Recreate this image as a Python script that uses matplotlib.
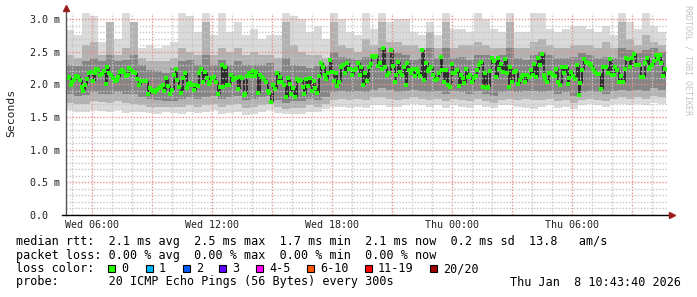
import numpy as np
import matplotlib
matplotlib.use("Agg")
import matplotlib.pyplot as plt

# time window in hours since Wed 00:00
t_start = 4.72
t_end = 34.72

# median rtt (ms), one value per step
median = [
    2.09, 2.12, 1.99, 2.03, 2.07, 2.13, 2.12, 2.07, 1.96, 1.90, 1.99, 2.08, 2.17, 2.19, 2.05,
    2.17, 2.23, 2.22, 2.14, 2.16, 2.20, 2.01, 2.27, 2.17, 2.14, 2.10, 2.05, 2.06, 2.12, 2.19,
    2.22, 2.19, 2.13, 2.14, 2.25, 2.22, 2.19, 2.17, 2.08, 1.99, 2.05, 2.05, 2.05, 2.05, 1.85,
    1.94, 1.91, 1.90, 1.88, 1.92, 1.95, 1.96, 1.99,
    1.90, 2.10, 1.98, 1.85, 1.91, 2.14, 2.24, 2.07, 1.96, 1.86, 2.09, 2.17, 1.95, 2.00, 2.02,
    1.99, 1.91, 1.99, 1.98, 2.17, 2.24, 2.04, 2.19, 2.09, 2.00, 2.04, 2.09, 2.11, 2.04, 1.85,
    1.96, 2.29, 1.96, 2.27, 1.99, 1.99, 2.14, 2.06, 2.10, 2.09, 1.93, 2.12, 2.09, 1.84, 1.85,
    2.13, 2.17, 2.13, 2.21, 2.13, 2.19, 1.86, 2.15, 2.12, 2.08,
    2.04, 1.90, 1.86, 1.73, 1.99, 1.93, 2.18, 2.03, 2.12, 2.03, 1.99, 1.81, 2.09, 2.00, 1.85,
    1.94, 1.81, 2.08, 2.05, 2.07, 1.96, 1.85, 2.08, 1.98, 2.09, 1.90, 2.05, 1.94, 1.86, 2.13,
    2.32, 2.27, 2.14, 2.08, 2.17, 2.37, 2.19, 2.05, 2.17, 1.98, 2.04, 2.27, 2.30, 2.18, 2.33,
    2.24, 2.23, 2.15, 2.22, 2.24, 2.32, 2.14, 2.26, 1.99, 2.17, 2.05,
    2.27, 2.31, 2.43, 2.42, 2.43, 2.28, 2.32, 2.24, 2.55, 2.26, 2.14, 2.17, 2.53, 2.28, 2.03,
    2.15, 2.34, 2.19, 2.14, 2.27, 1.99, 2.32, 2.22, 2.18, 2.24, 2.13, 2.24, 2.19, 2.13, 2.53,
    2.07, 2.32, 2.20, 2.24, 2.27, 2.14, 2.07, 2.08, 2.17, 2.42, 2.22, 2.04, 2.22, 1.99, 1.96,
    2.31, 2.17, 2.18, 2.22, 1.98, 2.14, 2.10, 2.02, 2.24, 2.12, 2.14, 2.04,
    2.10, 2.13, 2.22, 2.29, 2.34, 1.96, 2.17, 1.95, 1.96, 2.20, 2.40, 2.36, 2.12, 2.40, 2.23,
    2.31, 2.19, 2.39, 2.17, 1.96, 2.27, 2.03, 2.19, 2.20, 2.00, 2.07, 2.12, 2.14, 2.03, 2.14,
    2.12, 2.22, 2.15, 2.31, 2.12, 2.40, 2.29, 2.46, 2.15, 2.08, 2.03, 2.17, 2.18, 2.14, 2.13,
    2.24, 2.03, 1.99, 2.27, 2.17, 2.26, 2.01, 2.10, 2.19, 2.13, 2.08, 2.30, 1.84, 2.02, 2.22,
    2.39, 2.34, 2.32, 2.31, 2.29, 2.24, 2.19, 2.16, 2.16, 1.93, 2.27, 2.27, 2.27, 2.18, 2.39,
    2.15, 2.14, 2.26, 2.22, 2.04, 2.13, 2.04, 2.24, 2.41, 2.39, 2.27, 2.41, 2.46, 2.30, 2.30,
    2.30, 2.12, 2.11, 2.32, 2.40, 2.24, 2.27, 2.29, 2.35, 2.45, 2.39, 2.45, 2.33, 2.13, 2.24,
]

# smoke bands (ms), coarser bins
hi0 = [2.83, 2.76, 3.10, 3.05, 2.65, 2.80, 2.70, 3.10, 2.75, 2.55, 2.60, 2.55, 2.58,
       2.65, 3.10, 3.05, 2.80, 3.10, 2.75, 3.10, 2.80, 2.95, 2.75, 2.85, 2.70, 2.75,
       2.75, 3.10, 3.05, 3.00, 2.80, 2.90, 2.70, 3.10, 3.00, 2.80, 2.75, 3.10, 2.85,
       3.10, 2.95, 3.00, 3.00, 2.80, 2.75, 2.95, 2.75, 3.10, 2.85, 2.85, 2.80, 3.10,
       3.00, 2.85, 2.80, 3.10, 2.80, 2.80, 3.10, 3.10, 2.85, 2.80, 2.85, 2.90, 2.90,
       2.85, 2.80, 2.90, 2.75, 3.10, 2.95, 2.85, 3.10, 2.90, 2.80]
hi1 = [2.45, 2.40, 2.60, 2.65, 2.45, 2.95, 2.45, 2.55, 2.95, 2.40, 2.35, 2.35, 2.35,
       2.40, 2.55, 2.50, 2.45, 2.95, 2.45, 2.55, 2.50, 2.55, 2.45, 2.50, 2.45, 2.45,
       2.40, 2.95, 2.60, 2.50, 2.45, 2.45, 2.40, 2.95, 2.60, 2.55, 2.50, 2.70, 2.60,
       2.95, 2.65, 2.65, 2.60, 2.60, 2.55, 2.80, 2.55, 2.95, 2.55, 2.60, 2.60, 2.65,
       2.60, 2.55, 2.55, 2.95, 2.55, 2.55, 2.65, 2.70, 2.60, 2.55, 2.55, 2.60, 2.60,
       2.60, 2.55, 2.65, 2.55, 2.95, 2.70, 2.60, 2.75, 2.65, 2.60]
hi2 = [2.30, 2.28, 2.35, 2.40, 2.35, 2.45, 2.35, 2.38, 2.45, 2.30, 2.22, 2.20, 2.18,
       2.25, 2.35, 2.38, 2.30, 2.45, 2.30, 2.38, 2.30, 2.35, 2.30, 2.30, 2.30, 2.32,
       2.20, 2.40, 2.30, 2.28, 2.25, 2.28, 2.30, 2.50, 2.42, 2.40, 2.38, 2.42, 2.45,
       2.55, 2.50, 2.48, 2.45, 2.38, 2.40, 2.55, 2.40, 2.55, 2.40, 2.42, 2.38, 2.45,
       2.45, 2.40, 2.45, 2.55, 2.40, 2.38, 2.45, 2.50, 2.45, 2.40, 2.40, 2.42, 2.48,
       2.45, 2.40, 2.42, 2.40, 2.55, 2.52, 2.48, 2.52, 2.55, 2.50]
lo2 = [1.85, 1.82, 1.83, 1.88, 1.86, 1.85, 1.88, 1.86, 1.85, 1.80, 1.78, 1.76, 1.75,
       1.75, 1.78, 1.80, 1.78, 1.80, 1.82, 1.78, 1.80, 1.82, 1.76, 1.78, 1.80, 1.82,
       1.76, 1.72, 1.75, 1.74, 1.78, 1.76, 1.80, 1.88, 1.90, 1.88, 1.90, 1.88, 1.92,
       1.95, 1.92, 1.88, 1.90, 1.92, 1.90, 1.88, 1.90, 1.86, 1.90, 1.88, 1.86, 1.90,
       1.85, 1.82, 1.88, 1.90, 1.88, 1.90, 1.90, 1.88, 1.90, 1.86, 1.88, 1.82, 1.88,
       1.90, 1.88, 1.85, 1.90, 1.92, 1.90, 1.92, 1.90, 1.95, 1.92]
lo1 = [1.72, 1.70, 1.70, 1.74, 1.73, 1.72, 1.74, 1.72, 1.70, 1.68, 1.66, 1.65, 1.66,
       1.65, 1.66, 1.68, 1.66, 1.68, 1.70, 1.66, 1.68, 1.70, 1.64, 1.66, 1.68, 1.70,
       1.66, 1.62, 1.64, 1.64, 1.68, 1.66, 1.70, 1.76, 1.78, 1.76, 1.78, 1.76, 1.80,
       1.80, 1.78, 1.76, 1.78, 1.80, 1.78, 1.76, 1.78, 1.74, 1.78, 1.76, 1.74, 1.78,
       1.74, 1.72, 1.76, 1.78, 1.76, 1.78, 1.76, 1.76, 1.78, 1.74, 1.76, 1.72, 1.76,
       1.78, 1.76, 1.74, 1.78, 1.80, 1.78, 1.80, 1.78, 1.82, 1.80]
lo0 = [1.60, 1.58, 1.57, 1.60, 1.59, 1.58, 1.60, 1.56, 1.57, 1.58, 1.56, 1.55, 1.57,
       1.56, 1.55, 1.58, 1.56, 1.58, 1.60, 1.54, 1.56, 1.58, 1.53, 1.55, 1.58, 1.60,
       1.56, 1.55, 1.54, 1.55, 1.58, 1.57, 1.62, 1.66, 1.66, 1.64, 1.66, 1.64, 1.68,
       1.68, 1.66, 1.66, 1.68, 1.70, 1.68, 1.66, 1.68, 1.64, 1.68, 1.66, 1.64, 1.68,
       1.66, 1.64, 1.68, 1.68, 1.66, 1.64, 1.62, 1.66, 1.68, 1.64, 1.66, 1.62, 1.68,
       1.70, 1.68, 1.66, 1.70, 1.70, 1.68, 1.70, 1.68, 1.72, 1.70]

xtick_hours = [6, 9, 12, 15, 18, 21, 24, 27, 30, 33]
xtick_labels = ["Wed 06:00", "", "Wed 12:00", "", "Wed 18:00", "",
                "Thu 00:00", "", "Thu 06:00", ""]
ytick_vals = [0.0, 0.5, 1.0, 1.5, 2.0, 2.5, 3.0]
ytick_labels = ["0.0  ", "0.5 m", "1.0 m", "1.5 m", "2.0 m", "2.5 m", "3.0 m"]

loss_labels = ["0", "1", "2", "3", "4-5", "6-10", "11-19", "20/20"]
loss_colors = ["#26ff00", "#00b8ff", "#0059ff", "#5e00ff", "#ff00ff",
               "#ff5500", "#ff0000", "#a10000"]

legend_rtt = "median rtt:  2.1 ms avg  2.5 ms max  1.7 ms min  2.1 ms now  0.2 ms sd  13.8   am/s"
legend_loss = "packet loss: 0.00 % avg  0.00 % max  0.00 % min  0.00 % now"
legend_probe = "probe:       20 ICMP Echo Pings (56 Bytes) every 300s"
stamp = "Thu Jan  8 10:43:40 2026"

mono = "DejaVu Sans Mono"
W, H = 697, 297

fig = plt.figure(figsize=(W / 100, H / 100), dpi=100)
ax = fig.add_axes([66 / W, 82 / H, 602 / W, 202.5 / H])

span = t_end - t_start
med = np.array(median)
t = t_start + (np.arange(len(med)) + 0.5) * span / len(med)

nb = len(hi0)
bw = span / nb
bt = t_start + np.arange(nb) * bw
for lo, hi, c in [(lo0, hi0, "#dadada"), (lo1, hi1, "#b2b2b2"), (lo2, hi2, "#858585")]:
    lo = np.array(lo)
    hi = np.array(hi)
    ax.bar(bt, hi - lo, bottom=lo, width=bw, align="edge", color=c, linewidth=0, zorder=1)

# dark streaks between successive medians
ax.vlines(t[1:], np.minimum(med[:-1], med[1:]), np.maximum(med[:-1], med[1:]),
          color="#262626", lw=1.3, zorder=1.6)
ax.plot(t, med, "s", ms=2.2, mew=0, color="#22ff00", zorder=3)

ax.set_xlim(t_start, 34.82)
ax.set_ylim(0, 3.1)

ax.set_xticks(xtick_hours)
ax.set_xticklabels(xtick_labels)
ax.set_xticks(np.arange(5, 35), minor=True)
ax.set_yticks(ytick_vals)
ax.set_yticklabels(ytick_labels)
ax.set_yticks(np.arange(0.1, 3.1, 0.1), minor=True)
ax.tick_params(which="both", length=0)
ax.tick_params(axis="y", pad=4.3, labelsize=7.2, labelcolor="#222222")
ax.tick_params(axis="x", pad=3.5, labelsize=7.2, labelcolor="#222222")
for lbl in ax.get_xticklabels() + ax.get_yticklabels():
    lbl.set_family(mono)

ax.set_axisbelow(False)
ax.grid(True, which="minor", color="#c6c6c6", lw=1.0, ls=(0, (1, 1.2)))
ax.grid(True, which="major", color="#e89090", lw=1.0, ls=(0, (1, 1.2)))
for s in ax.spines.values():
    s.set_visible(False)

# axes with arrow heads
ax.plot([0, 0], [0, 1.015], transform=ax.transAxes, color="#555555", lw=1, clip_on=False, zorder=4)
ax.plot([-0.007, 1.003], [0, 0], transform=ax.transAxes, color="#000000", lw=1, clip_on=False, zorder=4)
ax.plot([0], [1.02], "^", ms=4.5, color="#9b1c1c", transform=ax.transAxes, clip_on=False, zorder=5)
ax.plot([1.006], [0], ">", ms=4.5, color="#9b1c1c", transform=ax.transAxes, clip_on=False, zorder=5)

fig.text(11 / W, 1 - 113 / H, "Seconds", rotation=90, ha="center", va="center",
         family=mono, fontsize=8.2, color="#222222")
fig.text(688 / W, 1 - 5 / H, "RRDTOOL / TOBI OETIKER", rotation=270, ha="center", va="top",
         family=mono, fontsize=6, color="#c4c4c4")

fs = 8.5
fig.text(16 / W, 1 - 241 / H, legend_rtt, family=mono, fontsize=fs, va="center")
fig.text(16 / W, 1 - 255 / H, legend_loss, family=mono, fontsize=fs, va="center")
fig.text(16 / W, 1 - 268.5 / H, "loss color:", family=mono, fontsize=fs, va="center")
fig.text(16 / W, 1 - 282 / H, legend_probe, family=mono, fontsize=fs, va="center")
fig.text(681 / W, 1 - 282 / H, stamp, family=mono, fontsize=fs, va="center", ha="right")

sq_x = [108, 146, 183, 219, 256, 307, 365, 430]
for x, lab, c in zip(sq_x, loss_labels, loss_colors):
    fig.patches.append(plt.Rectangle((x / W, 1 - 272 / H), 7 / W, 7 / H, transform=fig.transFigure,
                                     facecolor=c, edgecolor="black", lw=0.8))
    fig.text((x + 13) / W, 1 - 268.5 / H, lab, family=mono, fontsize=fs, va="center")

fig.savefig("out.png", dpi=100)
